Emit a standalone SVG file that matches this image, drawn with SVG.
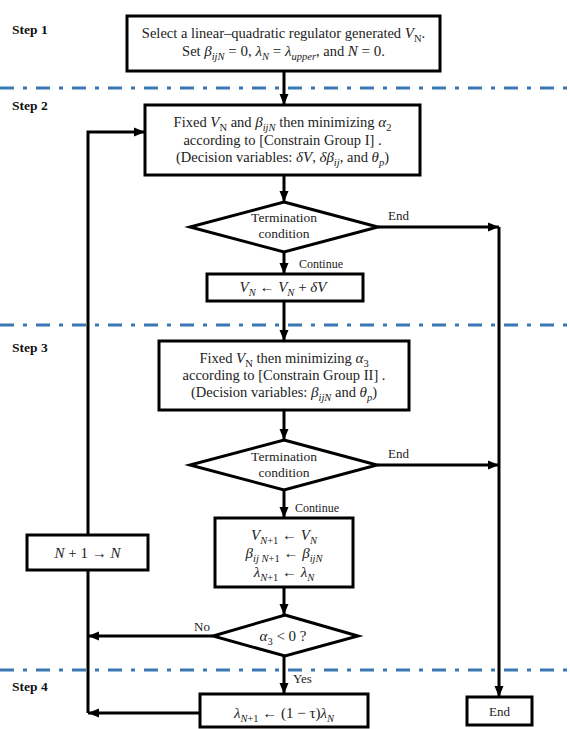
<svg xmlns="http://www.w3.org/2000/svg" width="570" height="729" viewBox="0 0 570 729">
<style>
text{font-family:'Liberation Serif','Times New Roman','DejaVu Serif',serif;font-size:14.5px;fill:#222}
.c{text-anchor:middle}
.i{font-style:italic}
.m{font-size:15px}
.s{font-size:10.5px}
.sm{font-size:13px}
.step{font-weight:bold;font-size:13.5px;fill:#111}
.box{fill:#fff;stroke:#000;stroke-width:3}
.dia{fill:#fff;stroke:#000;stroke-width:3;stroke-linejoin:miter}
.sep{stroke:#3A78B4;stroke-width:3;stroke-dasharray:14 9 4 9;fill:none}
.ar{stroke:#000;stroke-width:3;fill:none;marker-end:url(#ah)}
</style>
<defs>
<marker id="ah" markerUnits="userSpaceOnUse" markerWidth="12" markerHeight="12" viewBox="0 0 12 12" refX="11" refY="6" orient="auto">
<path d="M0,1.5 L11,6 L0,10.5 Z" fill="#000"/>
</marker>
</defs>

<g id="separators">
<line class="sep" x1="0" y1="88" x2="570" y2="88"/>
<line class="sep" x1="0" y1="325" x2="570" y2="325"/>
<line class="sep" x1="0" y1="670" x2="570" y2="670"/>
</g>

<g id="step-labels">
<text class="step" x="12" y="34">Step 1</text>
<text class="step" x="12" y="110">Step 2</text>
<text class="step" x="12" y="352">Step 3</text>
<text class="step" x="12" y="691">Step 4</text>
</g>

<g id="connectors">
<line class="ar" x1="284" y1="71" x2="284" y2="105"/>
<line class="ar" x1="284" y1="175" x2="284" y2="202"/>
<line class="ar" x1="378" y1="227" x2="499" y2="227"/>
<line class="ar" x1="499" y1="227" x2="499" y2="697"/>
<line class="ar" x1="284" y1="252" x2="284" y2="274"/>
<line class="ar" x1="284" y1="301" x2="284" y2="341"/>
<line class="ar" x1="284" y1="410" x2="284" y2="440"/>
<line class="ar" x1="377" y1="465" x2="499" y2="465"/>
<line class="ar" x1="284" y1="490" x2="284" y2="518"/>
<line class="ar" x1="284" y1="587" x2="284" y2="615"/>
<line class="ar" x1="213" y1="636" x2="88" y2="636"/>
<line class="ar" x1="284" y1="656" x2="284" y2="694"/>
<line class="ar" x1="200" y1="713" x2="88" y2="713"/>
<polyline class="ar" points="88,713 88,132 145,132"/>
<text class="sm" x="388" y="220">End</text>
<text x="299" y="268" style="font-size:12px">Continue</text>
<text class="sm" x="388" y="458">End</text>
<text x="295" y="512" style="font-size:12px">Continue</text>
<text class="sm" x="194" y="631">No</text>
<text class="sm" x="293" y="683">Yes</text>
</g>

<g id="n-step1">
<rect class="box" x="127" y="16" width="313" height="55"/>
<text class="c" x="283.5" y="38">Select a linear–quadratic regulator generated <tspan class="i m">V</tspan><tspan class="s" dy="3.5">N</tspan><tspan dy="-3.5">.</tspan></text>
<text class="c" x="283.5" y="56">Set <tspan class="i m">β</tspan><tspan class="s i" dy="3.5">ijN</tspan><tspan class="m" dy="-3.5"> = 0, </tspan><tspan class="i m">λ</tspan><tspan class="s i" dy="3.5">N</tspan><tspan class="m" dy="-3.5"> = </tspan><tspan class="i m">λ</tspan><tspan class="s i" dy="3.5">upper</tspan><tspan dy="-3.5">, and </tspan><tspan class="i m">N</tspan><tspan class="m"> = 0</tspan>.</text>
</g>

<g id="n-step2">
<rect class="box" x="145" y="105" width="275" height="70"/>
<text class="c" x="282.5" y="127">Fixed <tspan class="i m">V</tspan><tspan class="s" dy="3.5">N</tspan><tspan dy="-3.5"> and </tspan><tspan class="i m">β</tspan><tspan class="s i" dy="3.5">ijN</tspan><tspan dy="-3.5"> then minimizing </tspan><tspan class="i m">α</tspan><tspan class="s" dy="3.5">2</tspan></text>
<text class="c" x="282.5" y="145">according to [Constrain Group I] .</text>
<text class="c" x="282.5" y="162">(Decision variables: <tspan class="i m">δV</tspan>, <tspan class="i m">δβ</tspan><tspan class="s i" dy="3.5">ij</tspan><tspan dy="-3.5">, and </tspan><tspan class="i m">θ</tspan><tspan class="s i" dy="3.5">p</tspan><tspan dy="-3.5">)</tspan></text>
</g>

<g id="n-term1">
<polygon class="dia" points="284,202 378,227 284,252 190,227"/>
<text class="c" x="284" y="222" style="font-size:13.5px">Termination</text>
<text class="c" x="284" y="238" style="font-size:13.5px">condition</text>
</g>

<g id="n-update-v">
<rect class="box" x="207" y="274" width="156" height="27"/>
<text class="c m" x="283" y="292"><tspan class="i">V</tspan><tspan class="s i" dy="3.5">N</tspan><tspan dy="-3.5"> ← </tspan><tspan class="i">V</tspan><tspan class="s i" dy="3.5">N</tspan><tspan dy="-3.5"> + </tspan><tspan class="i">δV</tspan></text>
</g>

<g id="n-step3">
<rect class="box" x="159" y="341" width="250" height="69"/>
<text class="c" x="284" y="363">Fixed <tspan class="i m">V</tspan><tspan class="s" dy="3.5">N</tspan><tspan dy="-3.5"> then minimizing </tspan><tspan class="i m">α</tspan><tspan class="s" dy="3.5">3</tspan></text>
<text class="c" x="284" y="380">according to [Constrain Group II] .</text>
<text class="c" x="284" y="397">(Decision variables: <tspan class="i m">β</tspan><tspan class="s i" dy="3.5">ijN</tspan><tspan dy="-3.5"> and </tspan><tspan class="i m">θ</tspan><tspan class="s i" dy="3.5">p</tspan><tspan dy="-3.5">)</tspan></text>
</g>

<g id="n-term2">
<polygon class="dia" points="284,440 377,465 284,490 190,465"/>
<text class="c" x="284" y="461" style="font-size:13.5px">Termination</text>
<text class="c" x="284" y="477" style="font-size:13.5px">condition</text>
</g>

<g id="n-assign">
<rect class="box" x="215" y="518" width="138" height="69"/>
<text class="c m" x="284" y="540"><tspan class="i">V</tspan><tspan class="s i" dy="3.5">N</tspan><tspan class="s" dy="0">+1</tspan><tspan dy="-3.5"> ← </tspan><tspan class="i">V</tspan><tspan class="s i" dy="3.5">N</tspan></text>
<text class="c m" x="284" y="558"><tspan class="i">β</tspan><tspan class="s i" dy="3.5">ij N</tspan><tspan class="s">+1</tspan><tspan dy="-3.5"> ← </tspan><tspan class="i">β</tspan><tspan class="s i" dy="3.5">ijN</tspan></text>
<text class="c m" x="284" y="577"><tspan class="i">λ</tspan><tspan class="s i" dy="3.5">N</tspan><tspan class="s">+1</tspan><tspan dy="-3.5"> ← </tspan><tspan class="i">λ</tspan><tspan class="s i" dy="3.5">N</tspan></text>
</g>

<g id="n-increment">
<rect class="box" x="27" y="535" width="121" height="35"/>
<text class="c m" x="87.5" y="558"><tspan class="i">N</tspan> + 1 → <tspan class="i">N</tspan></text>
</g>

<g id="n-alpha3">
<polygon class="dia" points="285,615 358,636 285,656 213,636"/>
<text class="c m" x="283" y="641"><tspan class="i">α</tspan><tspan class="s" dy="3.5">3</tspan><tspan dy="-3.5"> &lt; 0 ?</tspan></text>
</g>

<g id="n-lambda">
<rect class="box" x="200" y="694" width="168" height="33"/>
<text class="c m" x="284" y="718"><tspan class="i">λ</tspan><tspan class="s i" dy="3.5">N</tspan><tspan class="s">+1</tspan><tspan dy="-3.5"> ←  (1 − τ)</tspan><tspan class="i">λ</tspan><tspan class="s i" dy="3.5">N</tspan></text>
</g>

<g id="n-end">
<rect class="box" x="467" y="697" width="65" height="28"/>
<text class="c sm" x="499.5" y="716">End</text>
</g>
</svg>
